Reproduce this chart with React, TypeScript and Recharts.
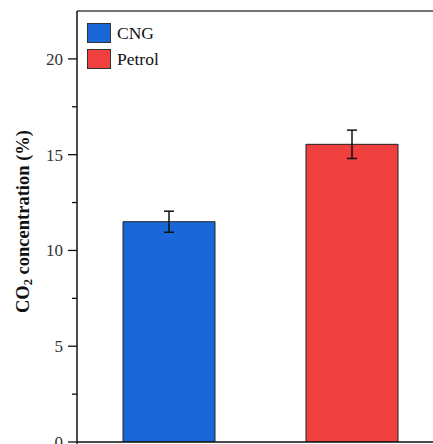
import React from "react";
import {
  BarChart,
  Bar,
  Cell,
  XAxis,
  YAxis,
  ErrorBar,
  Legend,
  ReferenceLine,
} from "recharts";

const categories = ["CNG", "Petrol"];
const values = [11.5, 15.54];
const errors = [0.55, 0.74];
const colors = ["#1A68D8", "#EF3F3F"];
const yTicks = [0, 2.5, 5, 7.5, 10, 12.5, 15, 17.5, 20];
const majorTicks = [0, 5, 10, 15, 20];

const data = categories.map((c, i) => ({ name: c, value: values[i], err: errors[i] }));

const FONT = "'Liberation Serif', 'Times New Roman', serif";
const TICK_SIZE = 9;
const TICK_MARGIN = 5;

const YTick = (props: any) => {
  const { x, y, payload } = props;
  const v = payload.value;
  const major = majorTicks.includes(v);
  const axisX = x + TICK_SIZE + TICK_MARGIN;
  return (
    <g>
      <line
        x1={axisX}
        x2={axisX - (major ? TICK_SIZE : 5)}
        y1={y}
        y2={y}
        stroke="#111"
        strokeWidth={1.3}
      />
      {major && (
        <text
          x={x}
          y={y}
          dy="0.355em"
          textAnchor="end"
          fontFamily={FONT}
          fontSize={17}
          fill="#333"
        >
          {v}
        </text>
      )}
    </g>
  );
};

const YLabel = (props: any) => {
  const vb = props.viewBox || { x: 0, y: 0, width: 0, height: 0 };
  const cx = vb.x + 23;
  const cy = vb.y + vb.height / 2 - 5;
  return (
    <text
      x={cx}
      y={cy}
      transform={`rotate(-90, ${cx}, ${cy})`}
      textAnchor="middle"
      dominantBaseline="central"
      fontFamily={FONT}
      fontWeight="bold"
      fontSize={18.5}
      fill="#111"
    >
      CO
      <tspan fontSize={12.5} dy={5}>2</tspan>
      <tspan dy={-5}> concentration (%)</tspan>
    </text>
  );
};

const LegendContent = () => (
  <div style={{ fontFamily: FONT, fontSize: 17.5, color: "#111" }}>
    {categories.map((c, i) => (
      <div key={c} style={{ display: "flex", alignItems: "center", height: 26 }}>
        <span
          style={{
            display: "inline-block",
            width: 22,
            height: 18,
            background: colors[i],
            border: "1px solid #333",
          }}
        />
        <span style={{ marginLeft: 6 }}>{c}</span>
      </div>
    ))}
  </div>
);

export default function App() {
  return (
    <div style={{ position: "absolute", left: 0, top: 0 }}>
      <BarChart
        width={460}
        height={470}
        data={data}
        margin={{ top: 11, right: 17, bottom: 8, left: 0 }}
      >
        <XAxis dataKey="name" xAxisId="cat" hide />
        <XAxis
          xAxisId="b"
          type="number"
          domain={[0, 2]}
          ticks={[0, 1, 2]}
          allowDataOverflow
          height={20}
          tickSize={7}
          tickFormatter={() => ""}
          axisLine={{ stroke: "#111", strokeWidth: 1.5 }}
          tickLine={{ stroke: "#111", strokeWidth: 1.3 }}
        />
        <YAxis
          width={77}
          domain={[0, 22.5]}
          ticks={yTicks}
          interval={0}
          allowDataOverflow
          tickSize={TICK_SIZE}
          tickMargin={TICK_MARGIN}
          tickLine={false}
          tick={<YTick />}
          axisLine={{ stroke: "#111", strokeWidth: 1.5 }}
          label={{ content: <YLabel /> }}
        />
        <ReferenceLine y={22.5} xAxisId="cat" stroke="#444" strokeWidth={1.5} />
        <Legend
          layout="vertical"
          align="center"
          verticalAlign="middle"
          content={<LegendContent />}
          wrapperStyle={{ left: 87, top: 20, width: "auto" }}
        />
        <Bar
          dataKey="value"
          xAxisId="cat"
          barSize={92}
          stroke="#222"
          strokeWidth={1}
          isAnimationActive={false}
        >
          {data.map((d, i) => (
            <Cell key={d.name} fill={colors[i]} />
          ))}
          <ErrorBar dataKey="err" width={5} stroke="#111" strokeWidth={1.5} />
        </Bar>
      </BarChart>
    </div>
  );
}
